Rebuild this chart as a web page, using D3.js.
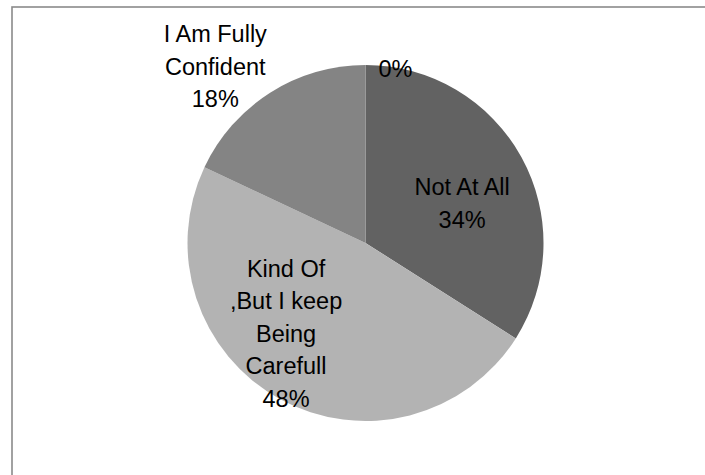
<!DOCTYPE html>
<html>
<head>
<meta charset="utf-8">
<script src="https://cdn.jsdelivr.net/npm/d3@7"></script>
<style>
  html, body { margin: 0; padding: 0; background: #fff; }
  svg { display: block; }
  text { font-family: "Liberation Sans", Arial, sans-serif; }
</style>
</head>
<body>
<svg id="chart" width="705" height="475"></svg>
<script>
// Survey answers, in drawing order clockwise from 12 o'clock
const categories = ["", "Not At All", "Kind Of\n,But I keep\nBeing\nCarefull", "I Am Fully\nConfident"];
const percents = [0, 34, 48, 18];
const fills = ["#4d4d4d", "#626262", "#b3b3b3", "#848484"];

// Label nudges from the arc centroid (label layout only)
const labelNudge = [[30, -67], [3, 12], [-28, -3], [-93, -86]];

const W = 705, H = 475;
const cx = 365.5, cy = 243, R = 178;
const lineH = 32.5, fontPx = 23.5;

const svg = d3.select("#chart");

// chart area frame
svg.append("rect")
  .attr("x", 12).attr("y", 7)
  .attr("width", W + 50).attr("height", H + 50)
  .attr("fill", "#fff")
  .attr("stroke", "#8a8a8a")
  .attr("stroke-width", 1.6);

const data = categories.map((c, i) => ({ name: c, value: percents[i], fill: fills[i], nudge: labelNudge[i] }));

const pie = d3.pie().value(d => d.value).sort(null);
const arcs = pie(data);
const arc = d3.arc().innerRadius(0).outerRadius(R);
const labelArc = d3.arc().innerRadius(R * 0.6).outerRadius(R * 0.6);

const g = svg.append("g").attr("transform", `translate(${cx},${cy})`);

g.selectAll("path.slice")
  .data(arcs.filter(a => a.data.value > 0))
  .join("path")
  .attr("class", "slice")
  .attr("d", arc)
  .attr("fill", d => d.data.fill);

g.selectAll("text.lbl")
  .data(arcs)
  .join("text")
  .attr("class", "lbl")
  .attr("text-anchor", "middle")
  .attr("font-size", fontPx)
  .attr("fill", "#000")
  .each(function (d) {
    const [x0, y0] = labelArc.centroid(d);
    const x = x0 + d.data.nudge[0];
    const y = y0 + d.data.nudge[1];
    const lines = (d.data.name ? d.data.name.split("\n") : []).concat([d.data.value + "%"]);
    const n = lines.length;
    const t = d3.select(this);
    lines.forEach((ln, i) => {
      t.append("tspan")
        .attr("x", x)
        .attr("y", y + (i - (n - 1) / 2) * lineH + 8)
        .text(ln);
    });
  });
</script>
</body>
</html>
